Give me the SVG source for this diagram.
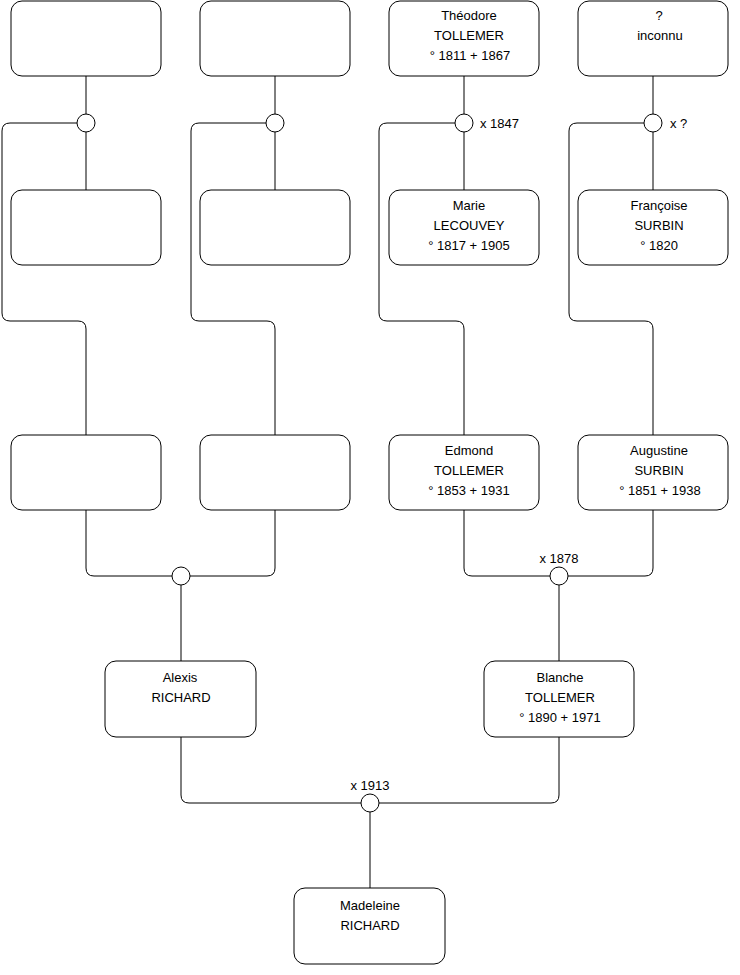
<svg xmlns="http://www.w3.org/2000/svg" width="740" height="975" viewBox="0 0 740 975">
<style>
.box{fill:#fff;stroke:#000;stroke-width:1}
.ln{fill:none;stroke:#000;stroke-width:1}
.dot{fill:#fff;stroke:#000;stroke-width:1}
text{font-family:"Liberation Sans",Arial,sans-serif;font-size:13px;fill:#000;text-anchor:middle}
.lbl{text-anchor:start}
</style>
<rect width="740" height="975" fill="#fff"/>
<g id="connectors">
<path class="ln" d="M86 76V190"/>
<path class="ln" d="M77 123H10Q2 123 2 131V313Q2 321 10 321H78Q86 321 86 329V435"/>
<path class="ln" d="M275 76V190"/>
<path class="ln" d="M266 123H199Q191 123 191 131V313Q191 321 199 321H267Q275 321 275 329V435"/>
<path class="ln" d="M464 76V190"/>
<path class="ln" d="M455 123H387Q379 123 379 131V313Q379 321 387 321H456Q464 321 464 329V435"/>
<path class="ln" d="M653 76V190"/>
<path class="ln" d="M644 123H577Q569 123 569 131V313Q569 321 577 321H645Q653 321 653 329V435"/>
<path class="ln" d="M86 510V568Q86 576 94 576H172M190 576H267Q275 576 275 568V510"/>
<path class="ln" d="M181 585V661"/>
<path class="ln" d="M464 510V568Q464 576 472 576H550M568 576H645Q653 576 653 568V510"/>
<path class="ln" d="M559 585V661"/>
<path class="ln" d="M181 737V795Q181 803 189 803H361M379 803H551Q559 803 559 795V737"/>
<path class="ln" d="M370 812V888"/>
</g>
<g id="unions">
<circle class="dot" cx="86" cy="123" r="9"/>
<circle class="dot" cx="275" cy="123" r="9"/>
<circle class="dot" cx="464" cy="123" r="9"/>
<text class="lbl" x="480" y="128">x 1847</text>
<circle class="dot" cx="653" cy="123" r="9"/>
<text class="lbl" x="670" y="128">x ?</text>
<circle class="dot" cx="181" cy="576" r="9"/>
<circle class="dot" cx="559" cy="576" r="9"/>
<text x="559" y="563">x 1878</text>
<circle class="dot" cx="370" cy="803" r="9"/>
<text x="370" y="790">x 1913</text>
</g>
<g id="n1"><rect class="box" x="11" y="1" width="150" height="75" rx="11"/></g>
<g id="n2"><rect class="box" x="200" y="1" width="150" height="75" rx="11"/></g>
<g id="n3"><rect class="box" x="389" y="1" width="150" height="75" rx="11"/>
<text x="469" y="20">Théodore</text><text x="469" y="40">TOLLEMER</text><text x="470" y="60">° 1811 + 1867</text></g>
<g id="n4"><rect class="box" x="578" y="1" width="150" height="75" rx="11"/>
<text x="659" y="20">?</text><text x="660" y="40">inconnu</text></g>
<g id="n5"><rect class="box" x="11" y="190" width="150" height="75" rx="11"/></g>
<g id="n6"><rect class="box" x="200" y="190" width="150" height="75" rx="11"/></g>
<g id="n7"><rect class="box" x="389" y="190" width="150" height="75" rx="11"/>
<text x="469" y="210">Marie</text><text x="469" y="230">LECOUVEY</text><text x="469" y="250">° 1817 + 1905</text></g>
<g id="n8"><rect class="box" x="578" y="190" width="150" height="75" rx="11"/>
<text x="659" y="210">Françoise</text><text x="659" y="230">SURBIN</text><text x="659" y="250">° 1820</text></g>
<g id="n9"><rect class="box" x="11" y="435" width="150" height="75" rx="11"/></g>
<g id="n10"><rect class="box" x="200" y="435" width="150" height="75" rx="11"/></g>
<g id="n11"><rect class="box" x="389" y="435" width="150" height="75" rx="11"/>
<text x="469" y="455">Edmond</text><text x="469" y="475">TOLLEMER</text><text x="469" y="495">° 1853 + 1931</text></g>
<g id="n12"><rect class="box" x="578" y="435" width="150" height="75" rx="11"/>
<text x="659" y="455">Augustine</text><text x="659" y="475">SURBIN</text><text x="660" y="495">° 1851 + 1938</text></g>
<g id="n13"><rect class="box" x="105" y="661" width="151" height="76" rx="11"/>
<text x="180" y="682">Alexis</text><text x="181" y="702">RICHARD</text></g>
<g id="n14"><rect class="box" x="484" y="661" width="150" height="76" rx="11"/>
<text x="560" y="682">Blanche</text><text x="560" y="702">TOLLEMER</text><text x="560" y="722">° 1890 + 1971</text></g>
<g id="n15"><rect class="box" x="294" y="888" width="151" height="76" rx="11"/>
<text x="370" y="910">Madeleine</text><text x="370" y="930">RICHARD</text></g>
</svg>
